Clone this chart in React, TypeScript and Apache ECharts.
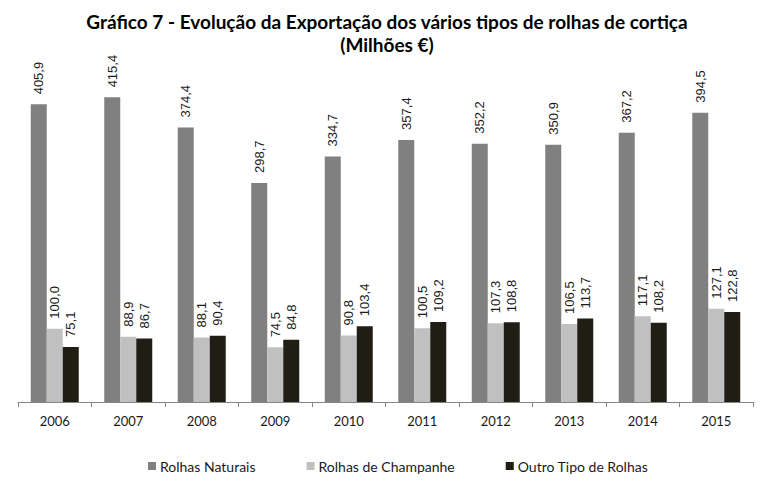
import React, { useEffect, useRef } from "react";
import * as echarts from "echarts";

const years = ["2006", "2007", "2008", "2009", "2010", "2011", "2012", "2013", "2014", "2015"];
const naturais = [405.9, 415.4, 374.4, 298.7, 334.7, 357.4, 352.2, 350.9, 367.2, 394.5];
const champanhe = [100.0, 88.9, 88.1, 74.5, 90.8, 100.5, 107.3, 106.5, 117.1, 127.1];
const outro = [75.1, 86.7, 90.4, 84.8, 103.4, 109.2, 108.8, 113.7, 108.2, 122.8];
const seriesNames = ["Rolhas Naturais", "Rolhas de Champanhe", "Outro Tipo de Rolhas"];
const colors = ["#808080", "#c0c0c0", "#1f1d14"];

export default function App() {
  const ref = useRef<HTMLDivElement>(null);
  useEffect(() => {
    if (!ref.current) return;
    const chart = echarts.init(ref.current, undefined, { renderer: "svg" });
    const label = {
      show: true,
      position: "top",
      rotate: 90,
      align: "left",
      verticalAlign: "middle",
      distance: 10,
      fontFamily: "Liberation Sans",
      fontSize: 13,
      color: "#1a1a1a",
      formatter: (p: any) => p.value.toFixed(1).replace(".", ","),
    };
    const datas = [naturais, champanhe, outro];
    chart.setOption({
      animation: false,
      backgroundColor: "#ffffff",
      title: {
        text: "Gráfico 7 - Evolução da Exportação dos vários tipos de rolhas de cortiça\n(Milhões €)",
        left: "center",
        top: 5,
        textStyle: {
          fontFamily: "Lato",
          fontWeight: "bold",
          fontSize: 19,
          color: "#000",
          lineHeight: 23,
        },
      },
      legend: {
        left: 143,
        top: 454,
        itemWidth: 8,
        itemHeight: 8,
        itemGap: 51,
        icon: "rect",
        textStyle: { fontFamily: "Lato", fontSize: 14, color: "#1a1a1a", padding: [0, 0, 0, -1] },
        data: seriesNames,
      },
      grid: { left: 18, right: 21, top: 72, bottom: 87, containLabel: false },
      xAxis: {
        type: "category",
        data: years,
        axisLine: { lineStyle: { color: "#868686", width: 1 } },
        axisTick: { show: true, length: 5, lineStyle: { color: "#868686" } },
        axisLabel: { fontFamily: "Lato", fontSize: 13, color: "#1a1a1a", margin: 12 },
      },
      yAxis: {
        type: "value",
        min: 0,
        max: 450,
        show: false,
        splitLine: { show: false },
      },
      series: datas.map((d, i) => ({
        name: seriesNames[i],
        type: "bar",
        data: d,
        barWidth: 16,
        barGap: "0%",
        itemStyle: { color: colors[i] },
        label,
      })),
    });
    return () => chart.dispose();
  }, []);
  return <div ref={ref} style={{ width: 774, height: 489, margin: -8 }} />;
}
